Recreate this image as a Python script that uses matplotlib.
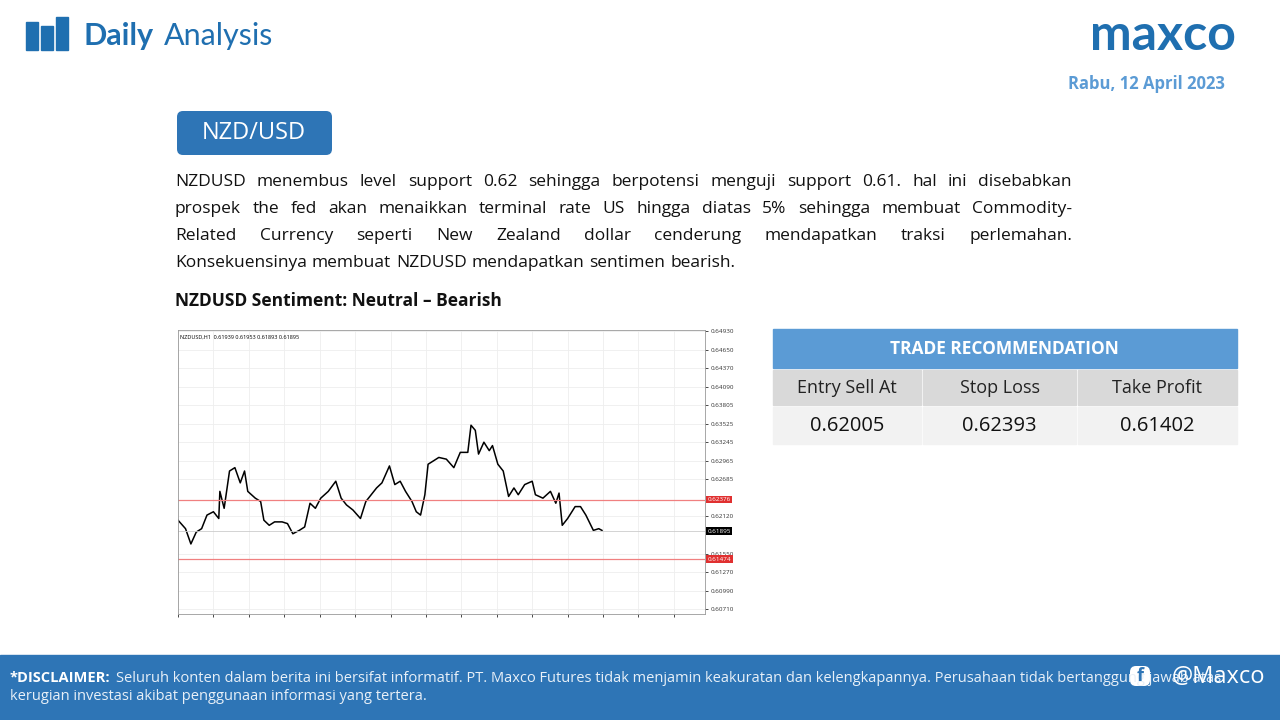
import matplotlib
matplotlib.use("Agg")
import matplotlib.pyplot as plt
from matplotlib.patches import Rectangle, FancyBboxPatch

plt.rcParams['font.family'] = ['Open Sans', 'DejaVu Sans']

# price path (x in bar units, y in price)
bar_x = [0, 7, 12, 17, 22, 27, 33, 38, 39, 43, 48, 53, 58, 62, 65, 72, 77, 80, 85, 90, 97, 102, 107,
         113, 118, 123, 128, 133, 140, 147, 152, 157, 163, 170, 175, 180, 185, 190, 197, 202, 207, 212,
         218, 222, 226, 230, 233, 238, 243, 250, 257, 263, 270, 273, 277, 280, 285, 290, 293, 298, 303,
         308, 313, 317, 323, 330, 333, 340, 347, 352, 355, 358, 363, 370, 375, 380, 387, 392, 395]
close = [0.62064, 0.61935, 0.61703, 0.61883, 0.61935, 0.62141, 0.62192, 0.62089, 0.62501, 0.62244,
         0.62810, 0.62861, 0.62630, 0.62810, 0.62501, 0.62398, 0.62347, 0.62064, 0.61986, 0.62038,
         0.62038, 0.62012, 0.61858, 0.61909, 0.61961, 0.62321, 0.62244, 0.62398, 0.62501, 0.62655,
         0.62398, 0.62295, 0.62218, 0.62089, 0.62347, 0.62450, 0.62553, 0.62630, 0.62887, 0.62604,
         0.62655, 0.62501, 0.62347, 0.62192, 0.62141, 0.62450, 0.62913, 0.62964, 0.63016, 0.62990,
         0.62861, 0.63093, 0.63093, 0.63505, 0.63427, 0.63067, 0.63247, 0.63119, 0.63196, 0.62913,
         0.62810, 0.62424, 0.62553, 0.62450, 0.62604, 0.62655, 0.62450, 0.62398, 0.62501, 0.62321,
         0.62475, 0.61986, 0.62089, 0.62270, 0.62270, 0.62141, 0.61909, 0.61935, 0.61909]
price_ticks = [0.64930, 0.64650, 0.64370, 0.64090, 0.63805, 0.63525, 0.63245, 0.62965, 0.62685,
               0.62120, 0.61550, 0.61270, 0.60990, 0.60710]
red_levels = [0.62376, 0.61474]
last_price = 0.61895

title = "NZD/USD"
paragraph = [
    "NZDUSD menembus level support 0.62 sehingga berpotensi menguji support 0.61. hal ini disebabkan",
    "prospek the fed akan menaikkan terminal rate US hingga diatas 5% sehingga membuat Commodity-",
    "Related Currency seperti New Zealand dollar cenderung mendapatkan traksi perlemahan.",
    "Konsekuensinya membuat NZDUSD mendapatkan sentimen bearish.",
]
sentiment = "NZDUSD Sentiment: Neutral \u2013 Bearish"
table_head = ["Entry Sell At", "Stop Loss", "Take Profit"]
table_vals = ["0.62005", "0.62393", "0.61402"]

W, H = 1280, 720
fig = plt.figure(figsize=(12.8, 7.2), dpi=100)
bg = fig.add_axes([0, 0, 1, 1])
bg.set_xlim(0, W)
bg.set_ylim(H, 0)
bg.axis('off')

blue = '#2e75b6'
logo_blue = '#1f6fb0'
fig.canvas.draw()
r = fig.canvas.get_renderer()

# header
for x0, h in [(26, 28), (41, 24), (56, 33)]:
    bg.add_patch(Rectangle((x0, 50 - h), 12, h, color=logo_blue))
t1 = bg.text(84, 36, "Daily", fontsize=22, fontweight='bold', color=logo_blue, va='center',
             family=['Lato'])
bg.text(84 + t1.get_window_extent(r).width + 10, 36, "Analysis", fontsize=22, color=logo_blue,
        va='center', family=['Lato'])
bg.text(1236, 36, "maxco", fontsize=36, fontweight='bold', color=logo_blue, va='center', ha='right',
        family=['Lato'])
bg.text(1225, 84, "Rabu, 12 April 2023", fontsize=12, fontweight='bold', color='#5b9bd5',
        va='center', ha='right')

# title box
bg.add_patch(FancyBboxPatch((177, 111), 155, 44, boxstyle="round,pad=0,rounding_size=6",
                            fc=blue, ec='none'))
bg.text(254, 133, title, fontsize=17, color='white', ha='center', va='center')

# justified paragraph
x_left, x_right = 175, 1072
for li, line in enumerate(paragraph):
    y = 182 + li * 27
    words = line.split()
    ts = [bg.text(0, y, w, fontsize=12.5, va='center', color='#111111') for w in words]
    widths = [t.get_window_extent(r).width for t in ts]
    if li < len(paragraph) - 1:
        gap = (x_right - x_left - sum(widths)) / (len(words) - 1)
    else:
        gap = 5
    x = x_left
    for t, w in zip(ts, widths):
        t.set_x(x)
        x += w + gap
bg.text(175, 301, sentiment, fontsize=12.5, fontweight='bold', va='center', color='#111111')

# trade table
bg.add_patch(Rectangle((773, 329), 464, 39, color='#5b9bd5'))
bg.text(1004, 349, "TRADE RECOMMENDATION", fontsize=12.5, fontweight='bold', color='white',
        ha='center', va='center')
cols = [(773, 921), (923, 1076), (1078, 1237)]
for (a, b), h, v in zip(cols, table_head, table_vals):
    bg.add_patch(Rectangle((a, 370), b - a, 35, color='#d9d9d9'))
    bg.add_patch(Rectangle((a, 407), b - a, 37, color='#f2f2f2'))
    bg.text((a + b) / 2, 388, h, fontsize=13, ha='center', va='center', color='#222222')
    bg.text((a + b) / 2, 426, v, fontsize=14.5, ha='center', va='center', color='#111111')

# footer
bg.add_patch(Rectangle((0, 655), W, 65, color=blue))
bg.text(10, 678, "*DISCLAIMER:", fontsize=10.5, fontweight='bold', color='white', va='center')
bg.text(116, 678, "Seluruh konten dalam berita ini bersifat informatif. PT. Maxco Futures tidak menjamin "
        "keakuratan dan kelengkapannya. Perusahaan tidak bertanggung jawab atas",
        fontsize=10.5, color='#e8f0f8', va='center')
bg.text(10, 697, "kerugian investasi akibat penggunaan informasi yang tertera.", fontsize=10.5,
        color='#e8f0f8', va='center')
bg.text(1265, 677, "@Maxco", fontsize=17, color='white', ha='right', va='center')
bg.add_patch(FancyBboxPatch((1130, 666), 20, 20, boxstyle="round,pad=0,rounding_size=6",
                            fc='white', ec='none'))
bg.text(1140, 676, "f", fontsize=13, fontweight='bold', color=blue, ha='center', va='center')

# price chart
ax = fig.add_axes([178 / W, 1 - 614 / H, 527 / W, 284 / H])
ax.plot(bar_x, close, color='black', lw=1.1)
ax.set_xlim(0, 491)
ax.set_ylim(0.60640, 0.64950)
ax.yaxis.tick_right()
ax.set_yticks(price_ticks)
ax.set_yticklabels([f"{p:.5f}" for p in price_ticks], fontsize=4.5, color='#333333')
ax.set_xticks(range(0, 491, 33))
ax.set_xticklabels([])
ax.tick_params(length=2, width=0.5, pad=2)
ax.grid(color='#eeeeee', lw=0.6)
for lv in red_levels:
    ax.axhline(lv, color='#f08080', lw=0.9)
    ax.text(1.005, lv, f"{lv:.5f}", transform=ax.get_yaxis_transform(), fontsize=4.5, color='white',
            va='center', bbox=dict(fc='#e03030', ec='none', pad=1))
ax.axhline(last_price, color='#cccccc', lw=0.6)
ax.text(1.005, last_price, f"{last_price:.5f}", transform=ax.get_yaxis_transform(), fontsize=4.5,
        color='white', va='center', bbox=dict(fc='black', ec='none', pad=1))
ax.text(0.004, 0.985, "NZDUSD,H1  0.61939 0.61953 0.61893 0.61895", transform=ax.transAxes,
        fontsize=4, va='top')
for s in ax.spines.values():
    s.set_color('#999999')
    s.set_linewidth(0.6)

fig.savefig("out.png", dpi=100)
